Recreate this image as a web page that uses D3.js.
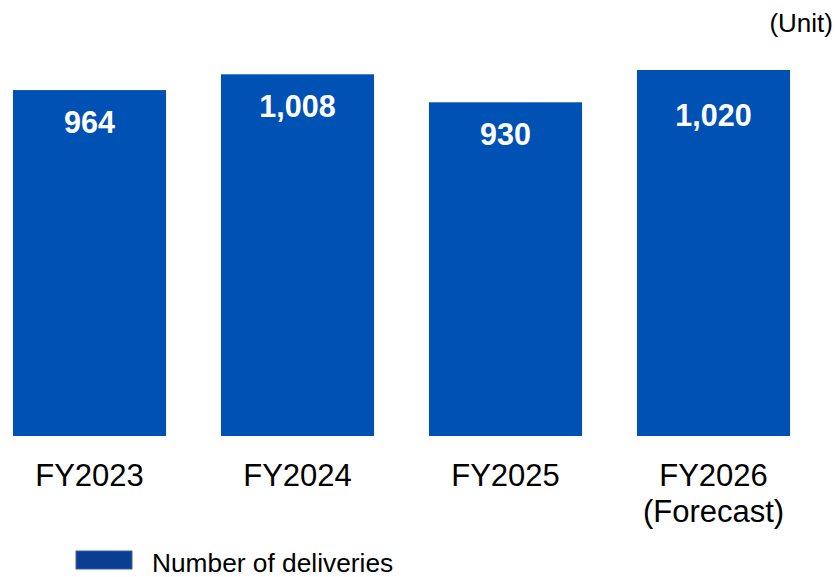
<!DOCTYPE html>
<html lang="en">
  <head>
    <meta charset="UTF-8" />
    <script src="https://d3js.org/d3.v7.min.js"></script>
    <title>Number of deliveries</title>
    <style>
      body { margin: 0; background: #fff; }
      text { font-family: "Liberation Sans", Arial, sans-serif; }
    </style>
  </head>
  <body>
    <svg id="chart" width="836" height="577"></svg>
  </body>
  <script>
    // data
    var years = ["FY2023", "FY2024", "FY2025", "FY2026"];
    var subLabels = ["", "", "", "(Forecast)"];
    var deliveries = [964, 1008, 930, 1020];
    var seriesName = "Number of deliveries";
    var unitLabel = "(Unit)";

    var svg = d3.select("#chart"),
      width = +svg.attr("width"),
      height = +svg.attr("height");

    var barColor = "#0051B4";

    // scales
    var x = d3
      .scaleBand()
      .domain(years)
      .range([-14.5, 817.5])
      .paddingInner(0.264)
      .paddingOuter(0.132);

    var y = d3.scaleLinear().domain([0, 1020]).range([436, 70]);

    // bars
    svg
      .append("g")
      .selectAll("rect")
      .data(deliveries)
      .enter()
      .append("rect")
      .attr("x", (d, i) => x(years[i]))
      .attr("y", (d) => y(d))
      .attr("width", x.bandwidth())
      .attr("height", (d) => y(0) - y(d))
      .attr("fill", barColor);

    // value labels (forecast label sits a bit lower in the bar)
    svg
      .append("g")
      .selectAll("text")
      .data(deliveries)
      .enter()
      .append("text")
      .attr("x", (d, i) => x(years[i]) + x.bandwidth() / 2)
      .attr("y", (d, i) => y(d) + (i === 3 ? 56 : 43))
      .attr("text-anchor", "middle")
      .style("font-size", "30.5px")
      .style("font-weight", "bold")
      .style("fill", "#fff")
      .text((d) => d3.format(",")(d));

    // category labels
    var xAxis = svg.append("g");
    xAxis
      .selectAll("text")
      .data(years)
      .enter()
      .append("text")
      .attr("x", (d) => x(d) + x.bandwidth() / 2)
      .attr("y", 485.5)
      .attr("text-anchor", "middle")
      .style("font-size", "31px")
      .style("fill", "#000")
      .text((d) => d)
      .append("tspan")
      .attr("x", (d) => x(d) + x.bandwidth() / 2)
      .attr("dy", 36)
      .text((d, i) => subLabels[i]);

    // unit
    svg
      .append("text")
      .attr("x", 833)
      .attr("y", 32)
      .attr("text-anchor", "end")
      .style("font-size", "26px")
      .style("fill", "#000")
      .text(unitLabel);

    // legend
    var legend = svg.append("g").attr("transform", "translate(76,551)");
    legend
      .append("rect")
      .attr("width", 56)
      .attr("height", 18)
      .attr("fill", "#0A3E92")
      .attr("stroke", "#3A63A8")
      .attr("stroke-width", 1);
    legend
      .append("text")
      .attr("x", 76)
      .attr("y", 20.5)
      .style("font-size", "26.3px")
      .style("fill", "#000")
      .text(seriesName);
  </script>
</html>
